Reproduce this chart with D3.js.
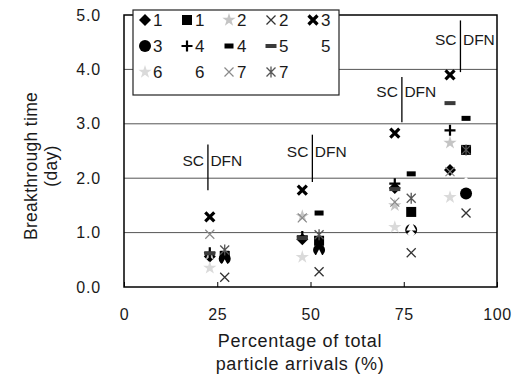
<!DOCTYPE html>
<html>
<head>
<meta charset="utf-8">
<script src="https://cdn.jsdelivr.net/npm/d3@7"></script>
<style>
  body { margin: 0; background: #fff; }
  svg { display: block; }
  text { font-family: "Liberation Sans", Arial, Helvetica, sans-serif; fill: #1a1a1a; }
</style>
</head>
<body>
<svg id="chart" width="516" height="392"></svg>
<script>
// Percentage of total particle arrivals at which each model's markers sit
const arrivalSC  = [23, 47.8, 72.6, 87.4];
const arrivalDFN = [27, 52.3, 77, 91.7];

// Breakthrough time (day), single-continuum model (SC), cases 1-7
const sc1 = [0.56, 0.88, 1.82, 2.15];
const sc2 = [0.60, 1.30, 1.50, 2.65];
const sc3 = [1.29, 1.78, 2.83, 3.90];
const sc4 = [0.63, 0.93, 1.90, 2.88];
const sc5 = [0.62, 0.90, 1.80, 3.38];
const sc6 = [0.35, 0.55, 1.10, 1.65];
const sc7 = [0.97, 1.27, 1.56, 2.12];

// Breakthrough time (day), discrete fracture network model (DFN), cases 1-7
const dfn1 = [0.57, 0.85, 1.38, 2.52];
const dfn2 = [0.18, 0.28, 0.63, 1.36];
const dfn3 = [0.52, 0.68, 1.05, 1.72];
const dfn4 = [0.62, 1.36, 2.08, 3.10];
const dfn5 = [0.42, 0.60, 1.12, 3.35];
const dfn6 = [0.40, 0.55, 0.98, 1.95];
const dfn7 = [0.68, 0.96, 1.63, 2.52];

// Legend labels, in drawing order
const seriesLabels = ["1", "1", "2", "2", "3", "3", "4", "4", "5", "5", "6", "6", "7", "7"];

// Axis ticks
const xTicks = [0, 25, 50, 75, 100];
const yTicks = [0, 1, 2, 3, 4, 5];

// SC | DFN divider annotations
const dividerX      = [22.5, 50.5, 74.5, 90.2];
const dividerTop    = [2.62, 2.80, 3.86, 4.90];
const dividerBottom = [1.78, 1.93, 3.03, 3.95];
const dividerLabelY = [2.23, 2.39, 3.49, 4.45];

const seriesValues = [sc1, dfn1, sc2, dfn2, sc3, dfn3, sc4, dfn4, sc5, dfn5, sc6, dfn6, sc7, dfn7];
const seriesModel  = ["SC", "DFN", "SC", "DFN", "SC", "DFN", "SC", "DFN", "SC", "DFN", "SC", "DFN", "SC", "DFN"];
const markerTypes  = ["diamond", "square", "star", "cross", "boldX", "circle", "plus", "bar",
                      "hatch", "whiteTri", "paleStar", "whiteDiamond", "greyCross", "asterisk"];

const svg = d3.select("#chart");
const plot = { left: 124, right: 497, top: 15, bottom: 287 };

const x = d3.scaleLinear().domain([0, 100]).range([plot.left, plot.right]);
const y = d3.scaleLinear().domain([0, 5]).range([plot.bottom, plot.top]);

// marker painters, each centred on (0,0)
function drawMarker(g, type) {
  switch (type) {
    case "diamond":
      g.append("path").attr("d", "M0,-6L6,0L0,6L-6,0Z").attr("fill", "#000"); break;
    case "square":
      g.append("rect").attr("x", -5).attr("y", -5).attr("width", 10).attr("height", 10).attr("fill", "#000"); break;
    case "star":
      g.append("path").attr("d", d3.symbol(d3.symbolStar, 55)()).attr("fill", "#c4c4c4"); break;
    case "cross":
      g.append("path").attr("d", "M-4.5,-4.5L4.5,4.5M-4.5,4.5L4.5,-4.5")
        .attr("stroke", "#333").attr("stroke-width", 1.3).attr("fill", "none"); break;
    case "boldX":
      g.append("path").attr("d", "M-4.5,-4.5L4.5,4.5M-4.5,4.5L4.5,-4.5")
        .attr("stroke", "#000").attr("stroke-width", 3.2).attr("fill", "none"); break;
    case "circle":
      g.append("circle").attr("r", 6).attr("fill", "#000"); break;
    case "plus":
      g.append("path").attr("d", "M-5.5,0H5.5M0,-5.5V5.5")
        .attr("stroke", "#000").attr("stroke-width", 2.2).attr("fill", "none"); break;
    case "bar":
      g.append("rect").attr("x", -4.5).attr("y", -2.5).attr("width", 9).attr("height", 5).attr("fill", "#000"); break;
    case "hatch":
      g.append("rect").attr("x", -5.5).attr("y", -2).attr("width", 11).attr("height", 4).attr("fill", "#3a3a3a"); break;
    case "whiteTri":
      g.append("path").attr("d", "M0,-5L5,4.5L-5,4.5Z").attr("fill", "#fff"); break;
    case "paleStar":
      g.append("path").attr("d", d3.symbol(d3.symbolStar, 55)()).attr("fill", "#dadada"); break;
    case "whiteDiamond":
      g.append("path").attr("d", "M0,-4L4,0L0,4L-4,0Z").attr("fill", "#fff"); break;
    case "greyCross":
      g.append("path").attr("d", "M-4.5,-4.5L4.5,4.5M-4.5,4.5L4.5,-4.5")
        .attr("stroke", "#8a8a8a").attr("stroke-width", 1.2).attr("fill", "none"); break;
    case "asterisk":
      g.append("path").attr("d", "M-4.5,-4.5L4.5,4.5M-4.5,4.5L4.5,-4.5M0,-5.5V5.5")
        .attr("stroke", "#555").attr("stroke-width", 1.3).attr("fill", "none"); break;
  }
}

// horizontal gridlines
svg.append("g").selectAll("line")
  .data(yTicks.filter(d => d > 0 && d < 5))
  .join("line")
  .attr("x1", plot.left).attr("x2", plot.right)
  .attr("y1", d => y(d)).attr("y2", d => y(d))
  .attr("stroke", "#555").attr("stroke-width", 1);

// x axis: inward ticks, labels below
const xAxis = d3.axisBottom(x).tickValues(xTicks).tickSizeInner(-5).tickSizeOuter(0).tickPadding(33)
  .tickFormat(d3.format("d"));
const gx = svg.append("g").attr("transform", `translate(0,${plot.bottom})`).call(xAxis);
gx.select(".domain").remove();
gx.selectAll("line").attr("stroke", "#000");
gx.selectAll("text").attr("font-size", 16).attr("letter-spacing", 0.6).attr("fill", "#1a1a1a").attr("dy", 0);

// y axis labels
const yAxis = d3.axisLeft(y).tickValues(yTicks).tickSize(0).tickPadding(23).tickFormat(d3.format(".1f"));
const gy = svg.append("g").attr("transform", `translate(${plot.left},0)`).call(yAxis);
gy.select(".domain").remove();
gy.selectAll("text").attr("font-size", 16).attr("letter-spacing", 0.8).attr("fill", "#1a1a1a");

// plot frame
svg.append("rect")
  .attr("x", plot.left).attr("y", plot.top)
  .attr("width", plot.right - plot.left).attr("height", plot.bottom - plot.top)
  .attr("fill", "none").attr("stroke", "#000").attr("stroke-width", 1.5);

// SC | DFN dividers
const div = svg.append("g");
dividerX.forEach((dx, i) => {
  div.append("line")
    .attr("x1", x(dx)).attr("x2", x(dx))
    .attr("y1", y(dividerTop[i])).attr("y2", y(dividerBottom[i]))
    .attr("stroke", "#000").attr("stroke-width", 1.3);
  div.append("text").attr("x", x(dx) - 4).attr("y", y(dividerLabelY[i]))
    .attr("text-anchor", "end").attr("font-size", 15.5).text("SC");
  div.append("text").attr("x", x(dx) + 2.5).attr("y", y(dividerLabelY[i]))
    .attr("text-anchor", "start").attr("font-size", 15.5).text("DFN");
});

// data markers
const marks = svg.append("g");
seriesValues.forEach((vals, i) => {
  const xs = seriesModel[i] === "SC" ? arrivalSC : arrivalDFN;
  vals.forEach((v, j) => {
    const g = marks.append("g").attr("transform", `translate(${x(xs[j])},${y(v)})`);
    drawMarker(g, markerTypes[i]);
  });
});

// legend
const legend = svg.append("g");
legend.append("rect").attr("x", 133).attr("y", 10).attr("width", 206).attr("height", 85)
  .attr("fill", "#fff").attr("stroke", "#222").attr("stroke-width", 1.2);
seriesLabels.forEach((lab, i) => {
  const col = i % 5, row = Math.floor(i / 5);
  const mx = 145 + col * 42, my = 20 + row * 26;
  const g = legend.append("g").attr("transform", `translate(${mx},${my})`);
  drawMarker(g, markerTypes[i]);
  legend.append("text").attr("x", mx + 8).attr("y", my + 6).attr("font-size", 17).text(lab);
});

// axis titles
svg.append("text").attr("x", 300).attr("y", 347).attr("text-anchor", "middle")
  .attr("font-size", 18).attr("letter-spacing", 0.7).text("Percentage of total");
svg.append("text").attr("x", 300).attr("y", 370).attr("text-anchor", "middle")
  .attr("font-size", 18).attr("letter-spacing", 0.7).text("particle arrivals (%)");
const yt = svg.append("text").attr("transform", "translate(37,166) rotate(-90)").attr("text-anchor", "middle")
  .attr("font-size", 17.5).attr("letter-spacing", 0.3);
yt.append("tspan").attr("x", 0).attr("y", 0).text("Breakthrough time");
yt.append("tspan").attr("x", 0).attr("y", 20).text("(day)");
</script>
</body>
</html>
